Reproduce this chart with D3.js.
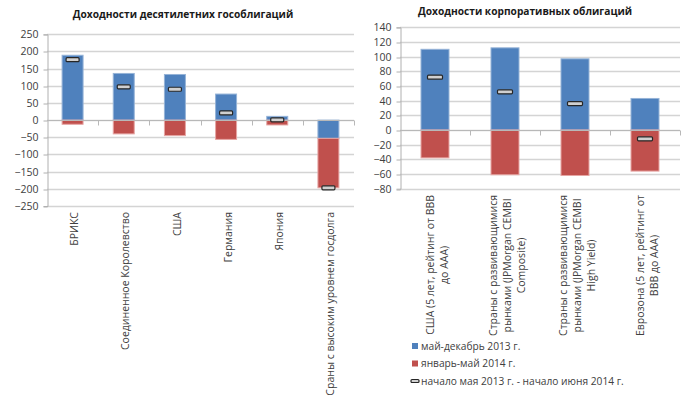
<!DOCTYPE html>
<html>
<head>
<meta charset="utf-8">
<script src="https://cdn.jsdelivr.net/npm/d3@7"></script>
<style>
  body { margin: 0; background: #fff; }
  svg { display: block; font-family: "Open Sans", "Liberation Sans", sans-serif; }
  .tick-label { font-size: 10.5px; fill: #404040; }
  .title { font-size: 10.2px; font-weight: bold; fill: #1a1a1a; }
  .legend-label { font-size: 10.2px; fill: #404040; }
</style>
</head>
<body>
<svg id="chart" width="686" height="399"></svg>
<script>
// government bonds (left panel)
const govCategories = ["БРИКС", "Соединенное Королевство", "США", "Германия", "Япония",
  "Сраны с высоким уровнем госдолга"];
const govMayDec2013 = [189, 136, 133, 76, 11, -53];
const govJanMay2014 = [-12, -40, -45, -56, -14, -144];
const govTotal = [176, 97, 90, 21, 1, -197];
const govTicks = [250, 200, 150, 100, 50, 0, -50, -100, -150, -200, -250];

// corporate bonds (right panel), labels split into lines as in the original
const corpCategories = [
  ["США (5 лет, рейтинг от BBB", "до AAA)"],
  ["Страны с развивающимися", "рынками (JPMorgan CEMBI", "Composite)"],
  ["Страны с развивающимися", "рынками (JPMorgan CEMBI", "High Yield)"],
  ["Еврозона (5 лет, рейтинг от", "BBB до AAA)"]
];
const corpMayDec2013 = [110, 112, 97, 43];
const corpJanMay2014 = [-38, -61, -62, -56];
const corpTotal = [72, 52, 36, -12];
const corpTicks = [140, 120, 100, 80, 60, 40, 20, 0, -20, -40, -60, -80];

const legendLabels = ["май-декабрь 2013 г.", "январь-май 2014 г.",
  "начало мая 2013 г. - начало июня 2014 г."];

const blue = "#4f81bd", red = "#c0504d";

var svg = d3.select("#chart");

/**
 * Draws one stacked bar panel with its total markers.
 */
function drawPanel(cfg) {
  var g = svg.append("g");
  var names = cfg.categories.map((d, i) => "c" + i);
  var rows = names.map((n, i) => ({ name: n, a: cfg.a[i], b: cfg.b[i], total: cfg.total[i] }));

  var xScale = d3.scaleBand()
    .domain(names)
    .range([cfg.left, cfg.right])
    .paddingInner(cfg.pad)
    .paddingOuter(cfg.pad / 2);
  var step = xScale.step();

  var yScale = d3.scaleLinear()
    .domain([cfg.ticks[cfg.ticks.length - 1], cfg.ticks[0]])
    .range([cfg.bottom, cfg.top]);

  // gridlines
  g.selectAll(".grid")
    .data(cfg.ticks)
    .enter().append("line")
    .attr("x1", cfg.left).attr("x2", cfg.right)
    .attr("y1", d => Math.round(yScale(d)) + 0.5)
    .attr("y2", d => Math.round(yScale(d)) + 0.5)
    .attr("stroke", "#d4d4d4")
    .attr("stroke-width", 1.3);

  // y axis
  var yAxis = g.append("g")
    .attr("transform", "translate(" + (cfg.left + 0.5) + ",0)")
    .call(d3.axisLeft(yScale).tickValues(cfg.ticks).tickSize(4).tickPadding(5));
  yAxis.select(".domain").attr("stroke", "#b0b0b0");
  yAxis.selectAll(".tick line").attr("stroke", "#b0b0b0")
    .attr("transform", d => "translate(0," + (Math.round(yScale(d)) + 0.5 - yScale(d)) + ")");
  yAxis.selectAll(".tick text").attr("class", "tick-label").style("font-family", null)
    .attr("font-size", null).attr("fill", null);
  yAxis.attr("font-family", null).attr("font-size", null);

  // stacked bars
  var stack = d3.stack().keys(["a", "b"]).offset(d3.stackOffsetDiverging);
  var series = stack(rows);
  var barW = xScale.bandwidth();
  g.selectAll(".series")
    .data(series)
    .enter().append("g")
    .attr("fill", (d, i) => i == 0 ? blue : red)
    .attr("stroke", (d, i) => i == 0 ? "#95b3d7" : "#e6a5a3")
    .attr("stroke-width", 1)
    .selectAll("rect")
    .data(d => d)
    .enter().append("rect")
    .attr("x", d => xScale(d.data.name))
    .attr("y", d => yScale(Math.max(d[0], d[1])))
    .attr("width", barW)
    .attr("height", d => Math.abs(yScale(d[0]) - yScale(d[1])));

  // category axis at zero with boundary ticks
  var y0 = Math.round(yScale(0)) + 0.5;
  g.append("line")
    .attr("x1", cfg.left).attr("x2", cfg.right)
    .attr("y1", y0).attr("y2", y0)
    .attr("stroke", "#b8b8b8");
  g.selectAll(".cat-tick")
    .data(names.slice(1).concat(["end"]))
    .enter().append("line")
    .attr("x1", (d, i) => Math.round(cfg.left + step * (i + 1)) + 0.5)
    .attr("x2", (d, i) => Math.round(cfg.left + step * (i + 1)) + 0.5)
    .attr("y1", y0).attr("y2", y0 + 5)
    .attr("stroke", "#b8b8b8");

  // total markers
  g.selectAll(".marker")
    .data(rows)
    .enter().append("rect")
    .attr("x", d => xScale(d.name) + barW / 2 - cfg.markW / 2)
    .attr("y", d => yScale(d.total) - 2)
    .attr("width", cfg.markW)
    .attr("height", 4)
    .attr("rx", 1)
    .attr("fill", "#d0d0d0")
    .attr("stroke", "#262626")
    .attr("stroke-width", 1.2);

  // category labels, rotated
  cfg.categories.forEach(function(c, i) {
    var lines = Array.isArray(c) ? c : [c];
    var cx = xScale(names[i]) + barW / 2 + cfg.labelShift;
    var lab = g.append("g")
      .attr("transform", "translate(" + cx + "," + cfg.labelTop + ") rotate(-90)");
    var texts = lab.selectAll("text")
      .data(lines)
      .enter().append("text")
      .attr("class", "tick-label")
      .attr("text-anchor", "middle")
      .attr("y", (d, j) => (j - (lines.length - 1) / 2) * cfg.lineH)
      .attr("dy", "0.35em")
      .text(d => d);
    var maxLen = d3.max(texts.nodes(), n => n.getComputedTextLength());
    texts.attr("x", -maxLen / 2);
  });

  // title
  svg.append("text")
    .attr("class", "title")
    .attr("x", cfg.titleX)
    .attr("y", cfg.titleY)
    .attr("text-anchor", "middle")
    .text(cfg.title);
}

drawPanel({
  categories: govCategories, a: govMayDec2013, b: govJanMay2014, total: govTotal,
  ticks: govTicks, left: 47, right: 354, top: 34.3, bottom: 206,
  pad: 0.59, markW: 13, labelTop: 212, labelShift: 2, lineH: 14,
  title: "Доходности десятилетних гособлигаций", titleX: 183, titleY: 18
});

drawPanel({
  categories: corpCategories, a: corpMayDec2013, b: corpJanMay2014, total: corpTotal,
  ticks: corpTicks, left: 400, right: 680, top: 27.3, bottom: 188.7,
  pad: 0.6, markW: 15, labelTop: 195, labelShift: 2, lineH: 14,
  title: "Доходности корпоративных облигаций", titleX: 525, titleY: 15
});

// legend
var legend = svg.append("g").attr("transform", "translate(412,346)");
legendLabels.forEach(function(t, i) {
  var row = legend.append("g").attr("transform", "translate(0," + (i * 17.5) + ")");
  if (i < 2) {
    row.append("rect").attr("x", 0).attr("y", -3).attr("width", 6).attr("height", 6)
      .attr("fill", i == 0 ? blue : red);
  } else {
    row.append("rect").attr("x", -1).attr("y", -1.5).attr("width", 8).attr("height", 3)
      .attr("rx", 1).attr("fill", "#d0d0d0").attr("stroke", "#262626").attr("stroke-width", 1.2);
  }
  row.append("text").attr("class", "legend-label")
    .attr("x", 9).attr("dy", "0.35em").text(t);
});
</script>
</body>
</html>
